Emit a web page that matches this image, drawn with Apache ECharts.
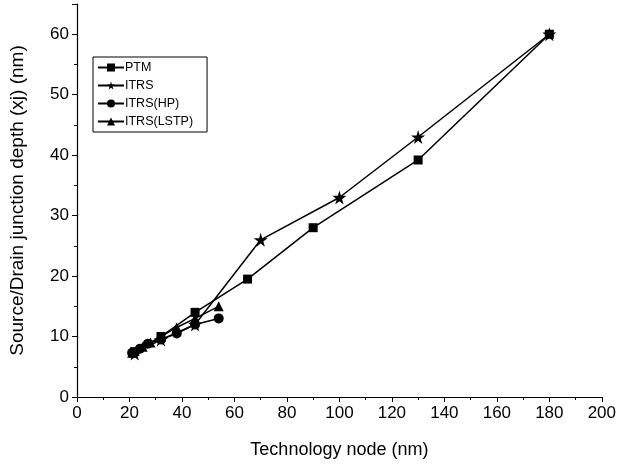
<!DOCTYPE html>
<html>
<head>
<meta charset="utf-8">
<script src="https://cdn.jsdelivr.net/npm/echarts@6/dist/echarts.min.js"></script>
<style>
  html, body { margin: 0; padding: 0; background: #fff; }
  #chart { width: 619px; height: 464px; }
</style>
</head>
<body>
<div id="chart"></div>
<script>
// data (x = technology node nm, y = junction depth nm)
var ptm = [[22, 7.5], [32, 10], [45, 14], [65, 19.5], [90, 28], [130, 39.2], [180, 60]];
var itrs = [[22, 7.2], [32, 9.5], [45, 12], [70, 26], [100, 33], [130, 43], [180, 60]];
var itrsHP = [[21, 7.3], [24, 8], [27, 8.8], [32, 9.5], [38, 10.5], [45, 12], [54, 13]];
var itrsLSTP = [[21, 7.3], [25, 8.3], [28, 9], [32, 10], [38, 11.5], [45, 13], [54, 15]];
var seriesNames = ['PTM', 'ITRS', 'ITRS(HP)', 'ITRS(LSTP)'];

var star = 'path://M50,0 L61,35 L98,35 L68,57 L79,91 L50,70 L21,91 L32,57 L2,35 L39,35 Z';

function mk(name, data, symbol, size) {
    return {
        name: name,
        type: 'line',
        data: data,
        symbol: symbol,
        symbolSize: size,
        showAllSymbol: true,
        lineStyle: { color: '#000', width: 1.5 },
        itemStyle: { color: '#000' },
        emphasis: { disabled: true },
        animation: false
    };
}

var chart = echarts.init(document.getElementById('chart'));
var font = 'Liberation Sans, Arial, sans-serif';
var axisFont = { color: '#000', fontFamily: font, fontSize: 17 };
var option = {
    animation: false,
    grid: { left: 75, right: 15, top: 4, bottom: 66, containLabel: false },
    legend: {
        orient: 'vertical',
        left: 93,
        top: 57,
        data: seriesNames,
        itemWidth: 26,
        itemHeight: 10,
        itemGap: 5,
        padding: [4, 14, 4, 4],
        borderColor: '#000',
        borderWidth: 1,
        textStyle: { color: '#000', fontFamily: font, fontSize: 12.5, padding: [0, 0, 0, -4] }
    },
    xAxis: {
        type: 'value',
        min: 0, max: 200, interval: 20,
        name: 'Technology node (nm)',
        nameLocation: 'middle',
        nameGap: 44,
        nameTextStyle: { color: '#000', fontFamily: font, fontSize: 18 },
        axisLine: { lineStyle: { color: '#000', width: 1.2 } },
        axisTick: { length: 5, lineStyle: { color: '#000' } },
        minorTick: { show: true, splitNumber: 2, length: 3, lineStyle: { color: '#000' } },
        splitLine: { show: false },
        axisLabel: Object.assign({ margin: 8 }, axisFont)
    },
    yAxis: {
        type: 'value',
        min: 0, max: 65, interval: 10,
        name: 'Source/Drain junction depth (xj) (nm)',
        nameLocation: 'middle',
        nameGap: 50,
        nameTextStyle: { color: '#000', fontFamily: font, fontSize: 19 },
        axisLine: { lineStyle: { color: '#000', width: 1.2 } },
        axisTick: { length: 5, lineStyle: { color: '#000' } },
        minorTick: { show: true, splitNumber: 2, length: 3, lineStyle: { color: '#000' } },
        splitLine: { show: false },
        axisLabel: Object.assign({ margin: 8, showMaxLabel: false }, axisFont)
    },
    series: [
        mk('PTM', ptm, 'rect', 9),
        mk('ITRS', itrs, star, 14),
        mk('ITRS(HP)', itrsHP, 'circle', 10),
        mk('ITRS(LSTP)', itrsLSTP, 'triangle', 10)
    ]
};
chart.setOption(option);
</script>
</body>
</html>
